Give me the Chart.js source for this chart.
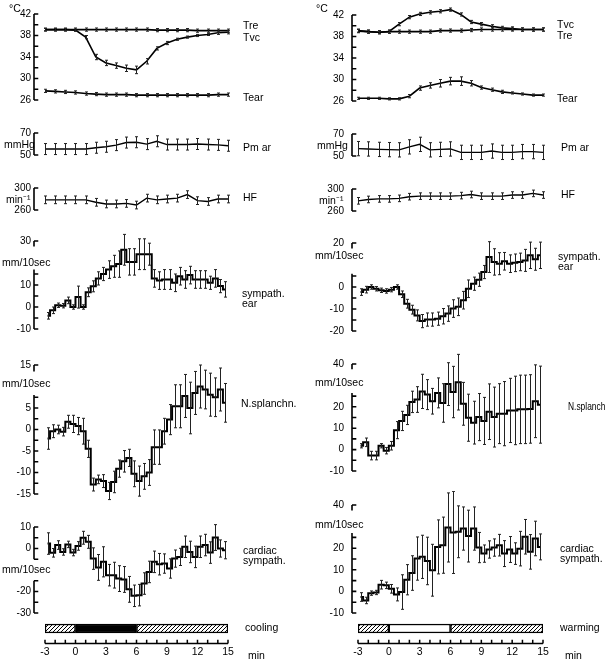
<!DOCTYPE html>
<html>
<head>
<meta charset="utf-8">
<script src="https://cdn.jsdelivr.net/npm/chart.js@4"></script>
<style>
body { margin: 0; background: #fff; }
#fig { position: relative; width: 605px; height: 660px; overflow: hidden; font-family: "Liberation Sans", Arial, sans-serif; color: #000; }
#fig canvas { position: absolute; }
.lb { position: absolute; font-size: 10.5px; line-height: 10px; white-space: nowrap; }
</style>
</head>
<body>
<div id="fig"></div>
<script>
//---------------- data
const minutes = [-3,-2,-1,0,1,2,3,4,5,6,7,8,9,10,11,12,13,14,15];
const binMid = [-2.75,-2.25,-1.75,-1.25,-0.75,-0.25,0.25,0.75,1.25,1.75,2.25,2.75,3.25,3.75,4.25,4.75,5.25,5.75,
  6.25,6.75,7.25,7.75,8.25,8.75,9.25,9.75,10.25,10.75,11.25,11.75,12.25,12.75,13.25,13.75,14.25,14.75];

// temperatures, cooling (left)
const treCool  = [39.1,39.1,39.1,39.1,39.1,39.1,39.1,39.1,39.1,39.1,39.1,39.0,39.0,39.0,39.0,38.9,38.9,38.9,38.9];
const tvcCool  = [39.1,39.1,39.1,39.0,37.7,34.0,32.9,32.4,31.9,31.6,33.2,35.6,36.6,37.3,37.7,38.0,38.2,38.5,38.6];
const tvcCoolErr = [0.2,0.2,0.2,0.2,0.3,0.5,0.5,0.5,0.6,0.7,0.5,0.3,0.3,0.2,0.2,0.2,0.2,0.3,0.3];
const tearCool = [27.7,27.6,27.5,27.4,27.2,27.1,27.0,27.0,27.0,26.9,26.9,26.9,26.9,26.9,26.9,26.9,26.9,27.0,27.0];
// temperatures, warming (right)
const treWarm  = [39.0,38.9,38.8,38.9,38.9,38.9,38.9,38.9,39.1,39.1,39.1,39.2,39.3,39.3,39.3,39.3,39.3,39.3,39.3];
const tvcWarm  = [39.1,38.9,38.8,38.9,40.3,41.6,42.2,42.5,42.7,43.0,42.1,40.7,40.3,39.9,39.6,39.5,39.3,39.3,39.3];
const tearWarm = [26.5,26.5,26.5,26.4,26.4,26.9,28.4,28.9,29.3,29.7,29.7,29.3,28.5,28.1,27.7,27.5,27.3,27.1,27.1];
const tearWarmErr = [0.2,0.2,0.2,0.2,0.2,0.3,0.4,0.5,0.7,0.7,0.8,0.5,0.3,0.3,0.3,0.2,0.2,0.2,0.2];

// blood pressure and heart rate
const pmCool = [55.4,55.4,55.4,55.4,55.4,56.6,57.5,59,61.3,61.6,59.9,62.5,59.5,59.5,59.5,60,59.5,59.2,58.4];
const hfCool = [278.5,278.5,278.5,278.5,278.5,274,271,271,272,269,281.6,278.5,280,281.6,288,277,275.5,280,280];
const pmWarm = [56.7,56.4,56,55.8,55.6,58.3,60.6,55.6,56,56.4,53.3,53.3,53.3,54.5,53.3,53.3,54,54,53.3];
const hfWarm = [278.5,281,282,282,283,286,287,287,287,287,288,290,287,287,287,289,289,292,289];

// nerve activity, 30 s bins
const earCool = [-4,-1.5,0.8,0.6,3,0,4.5,0,6.7,9.4,13,15,17,18.5,19.5,26,20.5,20.5,24,24,24,13,12,12.5,12.5,11,14,12.5,14.5,12.5,12.5,12.5,11,13,9.5,8];
const earCoolErr = [1.5,1.5,1,1,1.5,1,5,1,2,2.5,3,3,4,5,6,7,6,6,7,7,5,4,4,4.5,4.5,4,4,4,4,4,4,4,3,4,3,3.5];
const earWarm = [-2.3,-1.2,0,-0.8,-1.5,-1.8,-1.2,0,-3.3,-7.6,-10.3,-12.9,-15.5,-14.8,-14.8,-14.4,-13.3,-12.1,-9.8,-9,-6,-0.8,1.5,3.3,6.8,13.6,11.4,10.6,11.7,10.6,11,11.4,12.1,14.4,12.6,14.4];
const earWarmErr = [1.5,1.5,1,1,1,1,1,1,1.5,2,2,2.5,3,3,3,3,3.5,3.5,4,4,4,4,3,3,3,7,6,5,4,4,4,4,5,6,5,6];
const splCool = [-2.1,-0.4,0,-0.5,1.8,1.3,0.8,-0.4,-4.5,-12.8,-11.6,-12,-14.3,-12.2,-9.1,-7.4,-6.6,-10.3,-12,-10.9,-10,-4.1,-4.1,-0.4,2.3,5.4,5.4,7.8,5,8.5,10,9.3,8.1,7.5,9.3,6.2];
const splCoolErr = [2.5,1.5,1,1,1.5,2,2,3,2,1.5,1,1.5,2,2.5,2,2.5,2,3,3.5,3,3,4,4,3,3.5,5,5,5,6,5,5,4.5,5,4.5,5,4.5];
const splWarm = [1.8,3.4,-2.8,-2.8,1.8,-0.5,1.8,9.1,13.4,16.2,22.3,23.4,27.2,25.7,22.6,26.5,21.8,30.6,26.9,31.5,21.4,14.9,12.6,15.2,13.4,17.7,15.2,16.8,16.8,18.3,18.3,18.8,18.8,19,22.6,21];
const splWarmErr = [1,2,2,2,1,1.5,2,4,4.5,4.5,5,6,8,7,6,7,9,10,12,13,10,11,10,11,11,13,14,14,15,15,16,16,16,16,17,18];
const cardCool = [2.3,-2,1.6,-1.6,1.9,-1.9,1.2,5,3.1,-4.7,-8.8,-6.2,-12.4,-12.4,-14,-14.4,-19,-22,-21.7,-16.3,-10.9,-6.2,-7.3,-7,-9.3,-4.7,-3.9,0.8,-1.6,-3.9,0.8,1.6,-1.9,5.1,0,-0.8];
const cardCoolErr = [5,2,2,1.5,1.5,1.5,2,3,3,5,6,7,5,6,6,6,6,5,5,5,5,5,5,4.5,4.5,4,4,5,5,5,5,5,5,6,4,4];
const cardWarm = [-2.6,-4.2,-0.8,-0.5,3.1,2.8,1.2,-1.4,-0.3,5.4,8.5,15.2,16,14.1,9.8,20.6,21.4,29.6,27.3,27.6,29.1,25.6,29.1,20.3,17.5,19.4,20.3,21.4,17.5,19.4,17.5,19.8,25.3,18.3,24.5,20.6];
const cardWarmErr = [2,1.5,1,1,2,1.5,2,3,8,7,8,10,10,11,12,12.5,13,16,19,12,10,12,10,7,4,4,4,5,6,6,5,8,8,8,8,6];

// stimulus periods
const phases = [[-3,0],[0,6],[6,15]];

// axis tick labels
const tempLabels = [26,30,34,38,42];
const pmLabels = [50,70];
const hfLabels = [260,300];
const earCoolLabels = [30,10,0,-10];
const earWarmLabels = [20,0,-10,-20];
const splCoolLabels = [15,5,0,-5,-10,-15];
const splWarmLabels = [40,20,10,0,-10];
const cardCoolLabels = [10,0,-20,-30];
const cardWarmLabels = [40,20,10,0,-10];

//---------------- drawing
const fig = document.getElementById('fig');
Chart.defaults.font.family = '"Liberation Sans", Arial, sans-serif';
Chart.defaults.font.size = 10;
Chart.defaults.color = '#000';

var COLS = {
  L: {left: 0, width: 300, axis: 34, xmin: -4.08, right: 72, pad: 3, bar: 45},
  R: {left: 300, width: 305, axis: 52, xmin: -3.58, right: 62, pad: 8, bar: 58}
};

function addCanvas(x, y, w, h) {
  var cv = document.createElement('canvas');
  cv.width = w; cv.height = h;
  cv.style.left = x + 'px'; cv.style.top = y + 'px';
  fig.appendChild(cv);
  return cv;
}

function lab(text, x, y, squeeze) {
  var d = document.createElement('div');
  d.className = 'lb';
  d.innerHTML = text;
  d.style.left = x + 'px';
  d.style.top = (y - 5) + 'px';
  if (squeeze) { d.style.transform = 'scaleX(' + squeeze + ')'; d.style.transformOrigin = '0 0'; }
  fig.appendChild(d);
}

// error bars
var marks = {
  id: 'marks',
  afterDatasetsDraw: function(chart) {
    var ctx = chart.ctx, xs = chart.scales.x, ys = chart.scales.y;
    ctx.save();
    ctx.strokeStyle = '#222';
    ctx.lineWidth = 1;
    chart.data.datasets.forEach(function(ds) {
      if (!ds.err) return;
      ds.data.forEach(function(p, i) {
        var e = Array.isArray(ds.err) ? ds.err[i] : ds.err;
        var x = Math.round(xs.getPixelForValue(p.x)) + 0.5;
        var y1 = ys.getPixelForValue(p.y - e), y2 = ys.getPixelForValue(p.y + e);
        ctx.beginPath();
        ctx.moveTo(x, y1); ctx.lineTo(x, y2);
        ctx.moveTo(x - 1.5, y1); ctx.lineTo(x + 1.5, y1);
        ctx.moveTo(x - 1.5, y2); ctx.lineTo(x + 1.5, y2);
        ctx.stroke();
      });
    });
    ctx.restore();
  }
};

function line(xs, ys, err, w) {
  return {
    data: xs.map(function(x, i) { return {x: x, y: ys[i]}; }),
    err: err,
    borderColor: '#000', borderWidth: w || 1.6,
    pointRadius: 0, clip: false
  };
}
function steps(ys, err) {
  var d = line(binMid, ys, err, 2);
  d.stepped = 'middle';
  return d;
}

function panel(col, top, bottom, y, datasets) {
  var c = COLS[col];
  var cv = addCanvas(c.left, top - 14, c.width, bottom - top + 28);
  new Chart(cv, {
    type: 'line',
    data: {datasets: datasets},
    options: {
      responsive: false,
      animation: false,
      layout: {padding: {top: 14, bottom: 14, left: 0, right: c.right}},
      plugins: {legend: {display: false}, tooltip: {enabled: false}},
      scales: {
        x: {type: 'linear', min: c.xmin, max: 15, display: false},
        y: {
          min: y.min, max: y.max,
          grid: {display: false, drawTicks: false},
          border: {display: false},
          afterFit: function(s) { s.width = c.axis; },
          afterBuildTicks: function(s) { s.ticks = y.labels.map(function(v) { return {value: v}; }); },
          ticks: {padding: c.pad, autoSkip: false}
        }
      }
    },
    plugins: [marks]
  });
  // broken y axis (segments + inward ticks) on its own layer, same scales
  var pts = [];
  y.segs.forEach(function(g) { pts.push({x: c.xmin, y: g[0]}, {x: c.xmin, y: g[1]}, {x: c.xmin, y: null}); });
  y.ticks.forEach(function(v) { pts.push({x: c.xmin, y: v}, {x: c.xmin + 0.42, y: v}, {x: c.xmin, y: null}); });
  var ov = addCanvas(c.left, top - 14, c.width, bottom - top + 28);
  new Chart(ov, {
    type: 'line',
    data: {datasets: [{data: pts, borderColor: '#000', borderWidth: 1.6, pointRadius: 0, clip: false, spanGaps: false}]},
    options: {
      responsive: false,
      animation: false,
      layout: {padding: {top: 14, bottom: 14, left: c.axis, right: c.right}},
      plugins: {legend: {display: false}, tooltip: {enabled: false}},
      scales: {
        x: {type: 'linear', min: c.xmin, max: 15, display: false},
        y: {min: y.min, max: y.max, display: false}
      }
    }
  });
}

function hatch() {
  var c = document.createElement('canvas');
  c.width = 4; c.height = 4;
  var g = c.getContext('2d');
  g.fillStyle = '#fff'; g.fillRect(0, 0, 4, 4);
  g.strokeStyle = '#000'; g.lineWidth = 1;
  g.beginPath();
  g.moveTo(0, 4); g.lineTo(4, 0);
  g.moveTo(-1, 1); g.lineTo(1, -1);
  g.moveTo(3, 5); g.lineTo(5, 3);
  g.stroke();
  return g.createPattern(c, 'repeat');
}

// stimulus bar and the minute axis under it
function stimBar(col, fills) {
  var c = COLS[col];
  var cv = addCanvas(c.left, 605, c.width, 55);
  new Chart(cv, {
    type: 'bar',
    data: {
      labels: [''],
      datasets: phases.map(function(p, i) {
        return {data: [p], backgroundColor: fills[i], borderColor: '#000', borderWidth: 1.5,
                borderSkipped: false, barThickness: 9, grouped: false};
      })
    },
    options: {
      indexAxis: 'y',
      responsive: false,
      animation: false,
      layout: {padding: {top: 6, left: c.bar, right: c.right, bottom: 14}},
      plugins: {legend: {display: false}, tooltip: {enabled: false}},
      scales: {
        y: {display: false},
        x: {type: 'linear', min: -3, max: 15, display: false}
      }
    }
  });
  // minute axis: baseline + upward ticks as a line through the scales, labels from the x axis
  var pts = [{x: minutes[0], y: 0}, {x: minutes[minutes.length - 1], y: 0}, {x: minutes[0], y: null}];
  minutes.forEach(function(m) { pts.push({x: m, y: 0}, {x: m, y: 1}, {x: m, y: null}); });
  var ov = addCanvas(c.left, 600, c.width, 60);
  new Chart(ov, {
    type: 'line',
    data: {datasets: [{data: pts, borderColor: '#000', borderWidth: 1.5, pointRadius: 0, clip: false, spanGaps: false}]},
    options: {
      responsive: false,
      animation: false,
      layout: {padding: {top: 10, left: c.bar, right: c.right, bottom: 0}},
      plugins: {legend: {display: false}, tooltip: {enabled: false}},
      scales: {
        y: {min: 0, max: 9, display: false},
        x: {type: 'linear', min: -3, max: 15,
            grid: {display: false, drawTicks: false}, border: {display: false},
            ticks: {stepSize: 3, padding: 2, maxRotation: 0, font: {size: 10.5}}}
      }
    }
  });
}

var tempTicks = [26,28,30,32,34,36,38,40,42];

//----------------Cooling (left)
panel('L', 14, 100, {min: 26, max: 42, labels: tempLabels, segs: [[26,42]], ticks: tempTicks}, [
  line(minutes, treCool, 0.3), line(minutes, tvcCool, tvcCoolErr), line(minutes, tearCool, 0.3)
]);
panel('L', 133, 155, {min: 50, max: 70, labels: pmLabels, segs: [[50,70]], ticks: [50,70]}, [
  line(minutes, pmCool, 5, 1.4)
]);
panel('L', 188, 210, {min: 260, max: 300, labels: hfLabels, segs: [[260,300]], ticks: [260,300]}, [
  line(minutes, hfCool, 7, 1.4)
]);
panel('L', 241, 329, {min: -10, max: 30, labels: earCoolLabels, segs: [[27.5,30],[-10,17]], ticks: [30,15,10,5,0,-5,-10]}, [
  steps(earCool, earCoolErr)
]);
panel('L', 365, 494, {min: -15, max: 15, labels: splCoolLabels, segs: [[13.5,15],[-15,8]],
  ticks: [15,7.5,5,2.5,0,-2.5,-5,-7.5,-10,-12.5,-15]}, [
  steps(splCool, splCoolErr)
]);
panel('L', 527, 613, {min: -30, max: 10, labels: cardCoolLabels, segs: [[-5,10],[-30,-15]], ticks: [10,5,0,-5,-15,-20,-25,-30]}, [
  steps(cardCool, cardCoolErr)
]);

//----------------Warming (right)
panel('R', 15, 101, {min: 26, max: 42, labels: tempLabels, segs: [[26,42]], ticks: tempTicks}, [
  line(minutes, treWarm, 0.3), line(minutes, tvcWarm, 0.3), line(minutes, tearWarm, tearWarmErr)
]);
panel('R', 134, 156, {min: 50, max: 70, labels: pmLabels, segs: [[50,70]], ticks: [50,70]}, [
  line(minutes, pmWarm, 6.5, 1.4)
]);
panel('R', 189, 211, {min: 260, max: 300, labels: hfLabels, segs: [[260,300]], ticks: [260,300]}, [
  line(minutes, hfWarm, 6, 1.4)
]);
panel('R', 243, 331, {min: -20, max: 20, labels: earWarmLabels, segs: [[17.5,20],[-20,6]], ticks: [20,5,0,-5,-10,-15,-20]}, [
  steps(earWarm, earWarmErr)
]);
panel('R', 364, 471, {min: -10, max: 40, labels: splWarmLabels, segs: [[37.5,40],[-10,26.5]], ticks: [40,25,20,15,10,5,0,-5,-10]}, [
  steps(splWarm, splWarmErr)
]);
panel('R', 505, 613, {min: -10, max: 40, labels: cardWarmLabels, segs: [[37.5,40],[-10,27]], ticks: [40,25,20,15,10,5,0,-5,-10]}, [
  steps(cardWarm, cardWarmErr)
]);

var hp = hatch();
stimBar('L', [hp, '#000', hp]);
stimBar('R', [hp, '#fff', hp]);

//----------------text
lab('°C', 9, 8);
lab('mmHg', 4, 144); lab('min\u207B\u00B9', 6, 199);
lab('Tre', 243, 25); lab('Tvc', 243, 37); lab('Tear', 243, 97);
lab('Pm ar', 243, 147); lab('HF', 243, 197);
lab('mm/10sec', 2, 262); lab('sympath.<br>ear', 242, 293);
lab('mm/10sec', 2, 383); lab('N.splanchn.', 241, 403);
lab('mm/10sec', 2, 569); lab('cardiac<br>sympath.', 243, 550);
lab('cooling', 245, 627); lab('min', 248, 655);

lab('°C', 316, 8);
lab('mmHg', 317, 145); lab('min\u207B\u00B9', 319, 200);
lab('Tvc', 557, 24); lab('Tre', 557, 35); lab('Tear', 557, 98);
lab('Pm ar', 561, 147); lab('HF', 561, 194);
lab('mm/10sec', 315, 255); lab('sympath.<br>ear', 558, 256);
lab('mm/10sec', 315, 382); lab('N.splanch', 568, 406, 0.8);
lab('mm/10sec', 315, 524); lab('cardiac<br>sympath.', 560, 548);
lab('warming', 560, 627); lab('min', 565, 655);
</script>
</body>
</html>
